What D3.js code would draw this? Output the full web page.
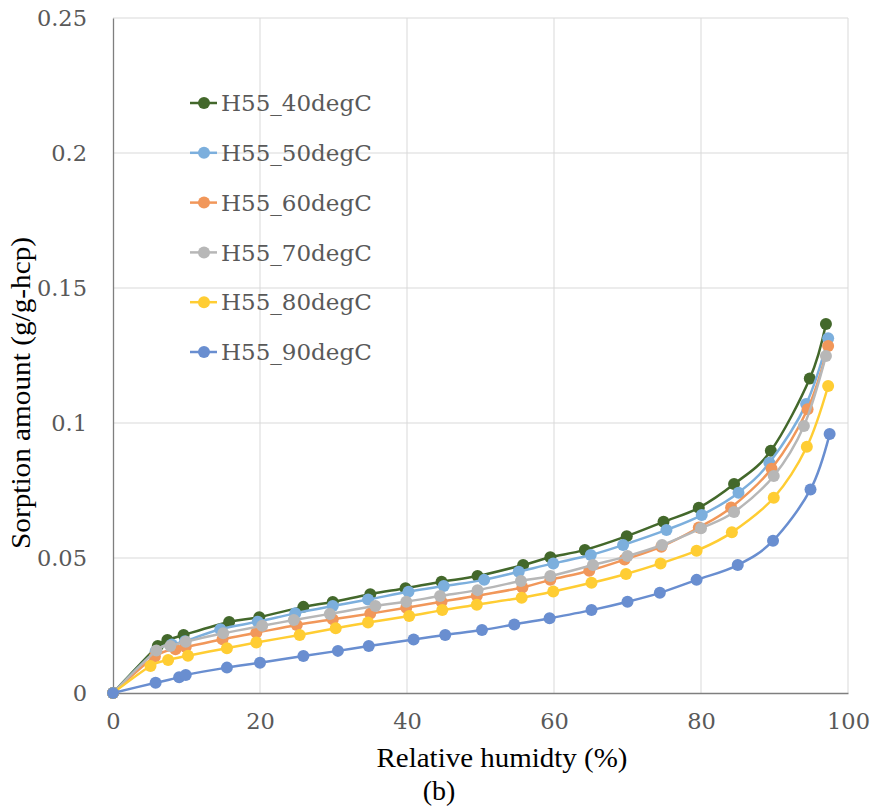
<!DOCTYPE html>
<html>
<head>
<meta charset="utf-8">
<script src="https://cdn.jsdelivr.net/npm/d3@7"></script>
<style>
  body { margin: 0; background: #fff; }
</style>
</head>
<body>
<svg width="875" height="810"></svg>
<script>
// data
const seriesNames = ["H55_40degC", "H55_50degC", "H55_60degC", "H55_70degC", "H55_80degC", "H55_90degC"];
const seriesColors = ["#43682b", "#7cafdd", "#f1975a", "#b7b7b7", "#ffcd33", "#698ed0"];

const rh40 = [0, 6.1, 7.4, 9.6, 15.8, 19.9, 25.9, 29.9, 35.0, 39.8, 44.7, 49.6, 55.8, 59.5, 64.2, 69.9, 74.9, 79.7, 84.5, 89.5, 94.8, 97.0];
const sorp40 = [0, 0.0174, 0.0196, 0.0215, 0.0263, 0.0281, 0.0319, 0.0337, 0.0366, 0.0388, 0.0412, 0.0433, 0.0474, 0.0503, 0.0530, 0.0581, 0.0634, 0.0686, 0.0774, 0.0897, 0.1165, 0.1367];

const rh50 = [0, 5.8, 8.0, 9.8, 14.6, 19.7, 24.8, 29.9, 34.7, 40.2, 45.0, 50.5, 55.2, 59.9, 65.0, 69.4, 75.3, 80.1, 85.1, 89.3, 94.3, 97.3];
const sorp50 = [0, 0.0155, 0.0180, 0.0192, 0.0236, 0.0264, 0.0295, 0.0322, 0.0346, 0.0375, 0.0396, 0.0419, 0.0449, 0.0480, 0.0511, 0.0548, 0.0604, 0.0659, 0.0742, 0.0853, 0.1070, 0.1314];

const rh60 = [0, 5.7, 8.5, 9.9, 14.9, 19.5, 25.0, 29.9, 35.0, 39.9, 44.7, 49.5, 55.7, 59.5, 64.8, 69.6, 74.6, 79.7, 84.1, 89.6, 94.5, 97.3];
const sorp60 = [0, 0.0135, 0.0162, 0.0170, 0.0199, 0.0223, 0.0252, 0.0273, 0.0294, 0.0316, 0.0338, 0.0360, 0.0391, 0.0419, 0.0453, 0.0494, 0.0542, 0.0613, 0.0687, 0.0831, 0.1051, 0.1285];

const rh70 = [0, 5.9, 7.8, 9.9, 15.0, 20.3, 24.6, 29.5, 35.7, 39.9, 44.5, 49.6, 55.5, 59.5, 65.3, 70.0, 74.7, 80.0, 84.5, 89.9, 94.0, 97.0];
const sorp70 = [0, 0.0157, 0.0174, 0.0190, 0.0221, 0.0249, 0.0270, 0.0293, 0.0322, 0.0338, 0.0359, 0.0381, 0.0415, 0.0433, 0.0474, 0.0507, 0.0548, 0.0610, 0.0670, 0.0804, 0.0989, 0.1248];

const rh80 = [0, 5.1, 7.5, 10.2, 15.5, 19.5, 25.4, 30.3, 34.7, 40.3, 44.8, 49.5, 55.6, 59.9, 65.1, 69.8, 74.5, 79.4, 84.2, 89.9, 94.4, 97.3];
const sorp80 = [0, 0.0100, 0.0122, 0.0138, 0.0166, 0.0187, 0.0215, 0.0240, 0.0261, 0.0285, 0.0307, 0.0327, 0.0353, 0.0376, 0.0408, 0.0441, 0.0480, 0.0527, 0.0595, 0.0723, 0.0912, 0.1137];

const rh90 = [0, 5.8, 9.0, 9.9, 15.5, 20.0, 25.9, 30.6, 34.8, 40.9, 45.2, 50.2, 54.6, 59.4, 65.1, 70.0, 74.4, 79.4, 85.0, 89.8, 94.9, 97.5];
const sorp90 = [0, 0.0038, 0.0058, 0.0067, 0.0094, 0.0112, 0.0137, 0.0156, 0.0174, 0.0198, 0.0215, 0.0233, 0.0254, 0.0277, 0.0307, 0.0338, 0.0371, 0.0419, 0.0474, 0.0564, 0.0754, 0.0959];

const xTicks = [0, 20, 40, 60, 80, 100];
const yTicks = [0, 0.05, 0.1, 0.15, 0.2, 0.25];

const rhAll = [rh40, rh50, rh60, rh70, rh80, rh90];
const sorpAll = [sorp40, sorp50, sorp60, sorp70, sorp80, sorp90];

// plot area
const plot = {left: 113, right: 848, top: 18, bottom: 693};
const tickFont = "'DejaVu Serif', serif";
const titleFont = "'Liberation Serif', 'Times New Roman', serif";

const svg = d3.select("svg");

const x = d3.scaleLinear().domain([0, 100]).range([plot.left, plot.right]);
const y = d3.scaleLinear().domain([0, 0.25]).range([plot.bottom, plot.top]);

// gridlines
svg.append("g")
    .selectAll("line")
    .data(xTicks.slice(1))
    .join("line")
    .attr("x1", d => x(d)).attr("x2", d => x(d))
    .attr("y1", plot.top).attr("y2", plot.bottom)
    .attr("stroke", "#d9d9d9")
    .attr("stroke-width", 1);

svg.append("g")
    .selectAll("line")
    .data(yTicks.slice(1))
    .join("line")
    .attr("x1", plot.left).attr("x2", plot.right)
    .attr("y1", d => y(d)).attr("y2", d => y(d))
    .attr("stroke", "#d9d9d9")
    .attr("stroke-width", 1);

// axes
const xAxis = svg.append("g")
    .attr("transform", `translate(0, ${plot.bottom})`)
    .call(d3.axisBottom(x).tickValues(xTicks).tickSize(0).tickPadding(20).tickFormat(d3.format("d")));

const yAxis = svg.append("g")
    .attr("transform", `translate(${plot.left}, 0)`)
    .call(d3.axisLeft(y).tickValues(yTicks).tickSize(0).tickPadding(26).tickFormat(d => d === 0 ? "0" : String(d)));

[xAxis, yAxis].forEach(a => {
    a.select(".domain").attr("stroke", "#7f7f7f").attr("stroke-width", 1.3);
    a.selectAll("text")
        .attr("font-family", tickFont)
        .attr("font-size", "22.5px")
        .attr("fill", "#595959");
});

// series lines + markers
const line = d3.line()
    .x(d => x(d[0]))
    .y(d => y(d[1]))
    .curve(d3.curveCardinal.tension(0));

seriesNames.forEach((name, i) => {
    const pts = rhAll[i].map((v, j) => [v, sorpAll[i][j]]);
    const g = svg.append("g");
    g.append("path")
        .datum(pts)
        .attr("d", line)
        .attr("fill", "none")
        .attr("stroke", seriesColors[i])
        .attr("stroke-width", 2.5);
    g.selectAll("circle")
        .data(pts)
        .join("circle")
        .attr("cx", d => x(d[0]))
        .attr("cy", d => y(d[1]))
        .attr("r", 6)
        .attr("fill", seriesColors[i]);
});

// legend
const legend = svg.append("g").attr("transform", "translate(190, 103)");
seriesNames.forEach((name, i) => {
    const row = legend.append("g").attr("transform", `translate(0, ${i * 49.8})`);
    row.append("line")
        .attr("x1", 0).attr("x2", 27)
        .attr("stroke", seriesColors[i])
        .attr("stroke-width", 2.5);
    row.append("circle")
        .attr("cx", 14).attr("r", 6)
        .attr("fill", seriesColors[i]);
    row.append("text")
        .attr("x", 31)
        .attr("dy", "0.36em")
        .attr("font-family", tickFont)
        .attr("font-size", "23px")
        .attr("fill", "#595959")
        .text(name);
});

// axis titles
svg.append("text")
    .attr("x", 502)
    .attr("y", 767)
    .attr("text-anchor", "middle")
    .attr("font-family", titleFont)
    .attr("font-size", "28px")
    .attr("textLength", 251)
    .attr("lengthAdjust", "spacingAndGlyphs")
    .text("Relative humidty (%)");

svg.append("text")
    .attr("transform", "translate(30, 393) rotate(-90)")
    .attr("text-anchor", "middle")
    .attr("font-family", titleFont)
    .attr("font-size", "28px")
    .attr("textLength", 312)
    .attr("lengthAdjust", "spacingAndGlyphs")
    .text("Sorption amount (g/g-hcp)");

svg.append("text")
    .attr("x", 439)
    .attr("y", 800)
    .attr("text-anchor", "middle")
    .attr("font-family", titleFont)
    .attr("font-size", "28px")
    .text("(b)");
</script>
</body>
</html>
